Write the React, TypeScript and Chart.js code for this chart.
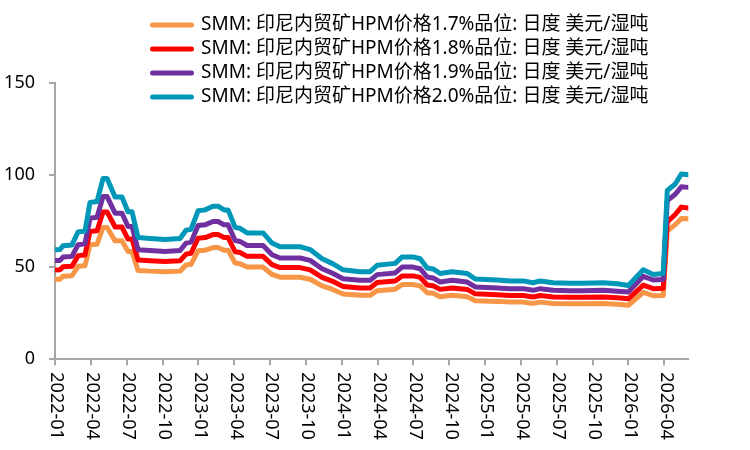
import React, { useEffect, useRef } from 'react';
import { Chart, registerables } from 'chart.js';

Chart.register(...registerables);

// x positions: months since 2022-01
const months = [0, 0.42, 0.67, 1.42, 1.93, 2.51, 2.93, 3.52, 4.02, 4.36, 5.03, 5.61, 6.11, 6.45, 6.95, 7.96, 9.21, 10.47, 10.97, 11.39, 11.98, 12.56, 13.23, 13.65, 14.15, 14.49, 15.08, 15.49, 16.08, 17.42, 18.17, 18.84, 20.52, 21.36, 22.36, 23.2, 24.12, 25.54, 26.38, 26.97, 28.48, 29.06, 29.98, 30.57, 31.16, 31.66, 32.24, 33.25, 34.51, 35.18, 37.02, 38.11, 39.2, 40.03, 40.62, 41.71, 43.13, 44.22, 45.9, 47.07, 48.0, 49.25, 50.08, 50.92, 51.26, 51.93, 52.43, 53.02];

const hpm17 = [43.4, 43.4, 45, 45.3, 50.4, 50.7, 62.1, 62.4, 71.5, 71.5, 64.2, 64.2, 58.4, 58.4, 48.2, 47.8, 47.5, 47.8, 51.1, 51.5, 58.8, 59.1, 60.6, 60.6, 59.1, 59.1, 52.2, 51.8, 50, 50, 46, 44.5, 44.5, 43.4, 39.8, 38, 35.4, 34.7, 34.7, 37.2, 38, 40.5, 40.5, 39.8, 36.1, 35.8, 33.9, 34.7, 33.9, 31.8, 31.4, 31, 31, 30.3, 31, 30.3, 30.1, 30.1, 30.3, 29.9, 29.3, 36.3, 34.5, 34.6, 69.5, 73, 76.3, 76.2];

const hpm18 = [48.4, 48.5, 50.2, 50.5, 56.2, 56.6, 69.3, 69.7, 79.9, 79.9, 71.7, 71.7, 65.2, 65.2, 53.8, 53.4, 53, 53.4, 57, 57.5, 65.6, 66, 67.6, 67.6, 66, 66, 58.3, 57.9, 55.8, 55.8, 51.3, 49.7, 49.7, 48.5, 44.4, 42.4, 39.5, 38.7, 38.7, 41.6, 42.4, 45.2, 45.2, 44.4, 40.3, 39.9, 37.9, 38.7, 37.9, 35.5, 35, 34.6, 34.6, 33.8, 34.6, 33.8, 33.6, 33.6, 33.8, 33.4, 32.8, 40.2, 38.3, 38.5, 74.5, 78.5, 82.5, 82];

const hpm19 = [53.5, 53.6, 55.4, 55.8, 62.1, 62.6, 76.5, 77, 88.2, 88.2, 79.2, 79.2, 72, 72, 59.4, 59, 58.5, 59, 63, 63.5, 72.5, 72.9, 74.7, 74.7, 72.9, 72.9, 64.4, 63.9, 61.7, 61.7, 56.7, 54.9, 54.9, 53.6, 49.1, 46.8, 43.7, 42.8, 42.8, 45.9, 46.8, 50, 50, 49.1, 44.6, 44.1, 41.9, 42.8, 41.9, 39.2, 38.7, 38.3, 38.3, 37.4, 38.3, 37.4, 37.1, 37.1, 37.4, 36.9, 36.5, 45, 43, 43.3, 86, 89.5, 93.5, 93.2];

const hpm20 = [59.4, 59.5, 61.6, 62, 69, 69.5, 85, 85.5, 98, 98, 88, 88, 80, 80, 66, 65.5, 65, 65.5, 70, 70.5, 80.5, 81, 83, 83, 81, 81, 71.5, 71, 68.5, 68.5, 63, 61, 61, 59.5, 54.5, 52, 48.5, 47.5, 47.5, 51, 52, 55.5, 55.5, 54.5, 49.5, 49, 46.5, 47.5, 46.5, 43.5, 43, 42.5, 42.5, 41.5, 42.5, 41.5, 41.2, 41.2, 41.5, 41, 40, 48.5, 46, 46.5, 91.5, 95, 100.5, 100];

const seriesLabels = [
  'SMM: 印尼内贸矿HPM价格1.7%品位: 日度 美元/湿吨',
  'SMM: 印尼内贸矿HPM价格1.8%品位: 日度 美元/湿吨',
  'SMM: 印尼内贸矿HPM价格1.9%品位: 日度 美元/湿吨',
  'SMM: 印尼内贸矿HPM价格2.0%品位: 日度 美元/湿吨',
];

const xTickLabels = ['2022-01', '2022-04', '2022-07', '2022-10', '2023-01', '2023-04', '2023-07', '2023-10', '2024-01', '2024-04', '2024-07', '2024-10', '2025-01', '2025-04', '2025-07', '2025-10', '2026-01', '2026-04'];
const xTickMonths = [0, 3, 6, 9, 12, 15, 18, 21, 24, 27, 30, 33, 36, 39, 42, 45, 48, 51];

const yTicks = [0, 50, 100, 150];

const colors = ['#F79646', '#FF0000', '#7030A0', '#0097B8'];

const FONT = "'Noto Sans', 'Noto Sans CJK SC', sans-serif";
const AXIS = '#a6a6a6';

export default function App() {
  const ref = useRef<HTMLCanvasElement>(null);

  useEffect(() => {
    const canvas = ref.current;
    if (!canvas) return;
    const allSeries = [hpm17, hpm18, hpm19, hpm20];
    const toPts = (vals: number[]) => months.map((m, i) => ({ x: m, y: vals[i] }));

    const legendPos = {
      id: 'legendPos',
      afterLayout(chart: any) {
        const lg = chart.legend;
        if (!lg) return;
        lg.left = 147.5;
        lg.top = 10.5;
        lg.right = lg.left + 600;
        lg.bottom = lg.top + 300;
      },
    };

    const xLabels = {
      id: 'xLabels',
      afterDraw(chart: any) {
        const sc = chart.scales.x;
        const ctx = chart.ctx;
        ctx.save();
        ctx.font = `18px ${FONT}`;
        ctx.fillStyle = '#000';
        ctx.textAlign = 'left';
        ctx.textBaseline = 'middle';
        sc.ticks.forEach((t: any, i: number) => {
          const lbl = xTickLabels[i];
          if (!lbl) return;
          const px = sc.getPixelForValue(t.value);
          ctx.save();
          ctx.translate(px + 1.5, sc.top + 13);
          ctx.rotate(Math.PI / 2);
          ctx.fillText(lbl, 0, 0);
          ctx.restore();
        });
        ctx.restore();
      },
    };

    const chart = new Chart(canvas, {
      type: 'line',
      data: {
        datasets: allSeries.map((vals, i) => ({
          label: seriesLabels[i],
          data: toPts(vals),
          borderColor: colors[i],
          backgroundColor: colors[i],
          borderWidth: 5,
          pointRadius: 0,
          tension: 0,
          borderJoinStyle: 'round' as const,
          borderCapStyle: 'round' as const,
          order: 4 - i,
        })),
      },
      options: {
        responsive: false,
        animation: false,
        devicePixelRatio: 1,
        layout: { padding: { left: 0, right: 61.7, top: 82.6, bottom: 0 } },
        plugins: {
          tooltip: { enabled: false },
          legend: {
            position: 'chartArea' as any,
            align: 'start',
            labels: {
              usePointStyle: true,
              pointStyleWidth: 39,
              padding: 5,
              color: '#000',
              font: { family: FONT, size: 19 },
              generateLabels: (ch: any) =>
                ch.data.datasets.map((ds: any, i: number) => ({
                  text: ds.label,
                  fillStyle: colors[i],
                  strokeStyle: colors[i],
                  lineWidth: 5,
                  lineCap: 'round',
                  pointStyle: 'line',
                  fontColor: '#000',
                  hidden: false,
                  datasetIndex: i,
                })),
            },
          },
        },
        scales: {
          x: {
            type: 'linear',
            min: 0,
            max: 53.02,
            ticks: { stepSize: 3, display: false },
            afterBuildTicks: (s: any) => {
              s.ticks = xTickMonths.map((v) => ({ value: v }));
            },
            afterFit: (s: any) => {
              s.height = 90.7;
            },
            grid: { display: true, drawOnChartArea: false, drawTicks: true, tickLength: 6, color: AXIS, lineWidth: 2 },
            border: { display: true, color: AXIS, width: 2 },
          },
          y: {
            min: 0,
            max: 150,
            afterBuildTicks: (s: any) => {
              s.ticks = yTicks.map((v) => ({ value: v }));
            },
            ticks: { stepSize: 50, color: '#000', padding: 14, font: { family: FONT, size: 18 } },
            afterFit: (s: any) => {
              s.width = 55;
            },
            grid: { display: true, drawOnChartArea: false, drawTicks: true, tickLength: 6, color: AXIS, lineWidth: 2 },
            border: { display: true, color: AXIS, width: 2 },
          },
        },
      },
      plugins: [legendPos, xLabels],
    } as any);

    return () => chart.destroy();
  }, []);

  return (
    <div style={{ position: 'fixed', left: 0, top: 0, width: 750, height: 450, background: '#fff' }}>
      <canvas ref={ref} width={750} height={450} style={{ display: 'block' }} />
    </div>
  );
}
